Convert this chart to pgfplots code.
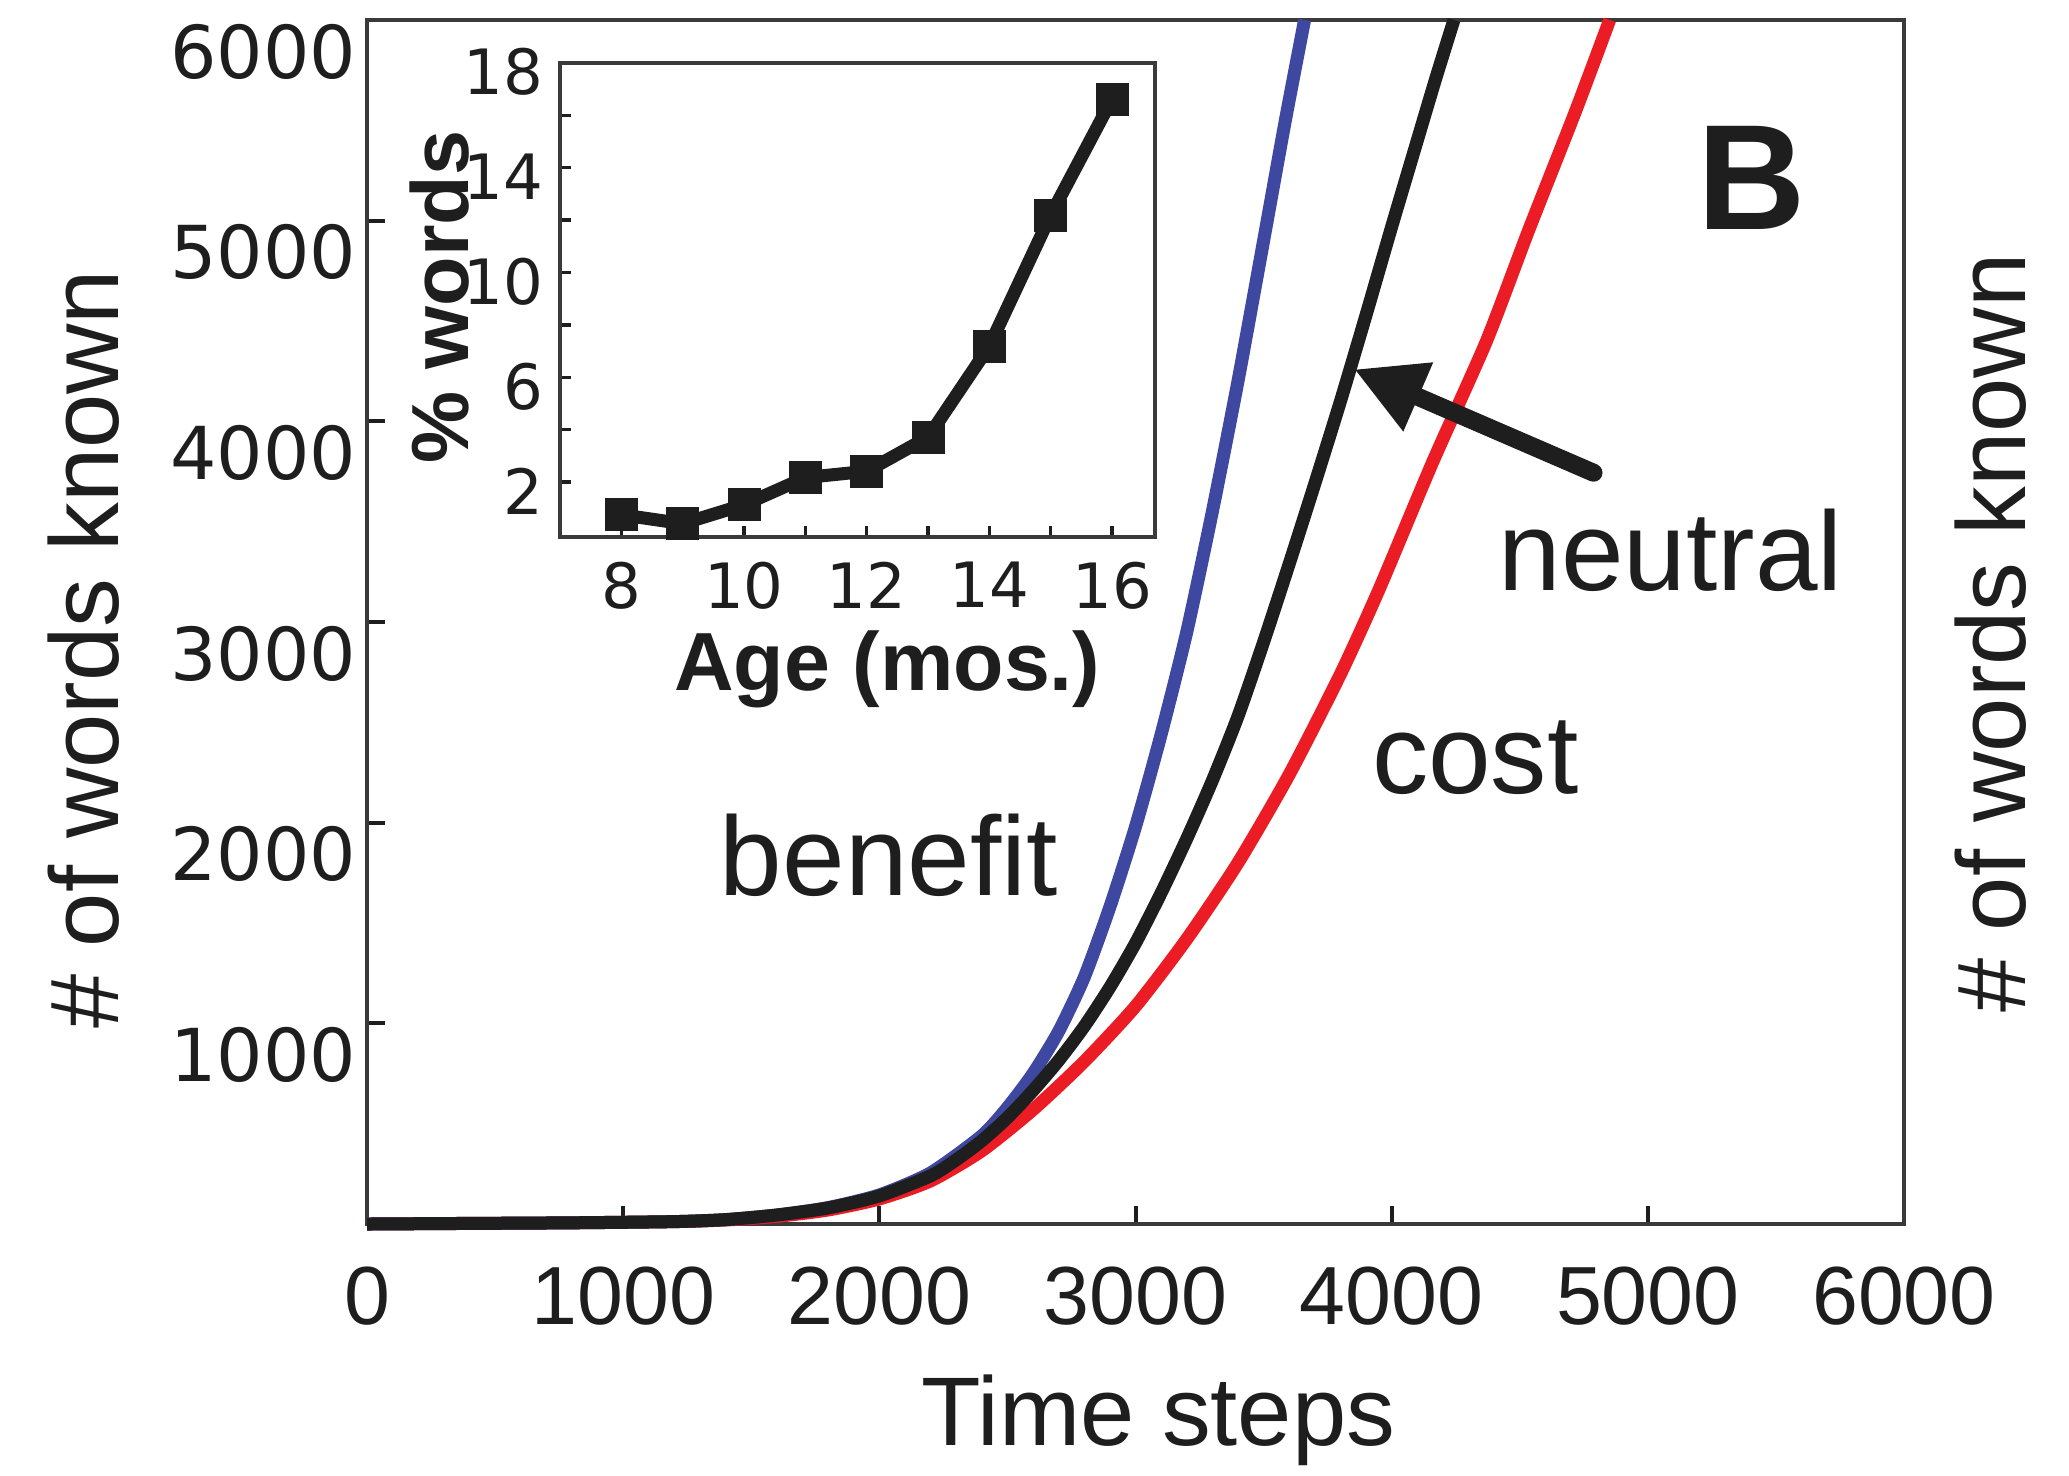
\documentclass[border=0pt]{standalone}
\usepackage{fontspec}
\setmainfont{Liberation Sans}
\newfontfamily\dejavu{DejaVu Sans}
\usepackage{pgfplots}
\pgfplotsset{compat=1.18}
\usetikzlibrary{arrows.meta}
\definecolor{cblue}{HTML}{3F48A1}
\definecolor{cred}{HTML}{EC1C24}
\definecolor{cblk}{HTML}{1E1E1E}
\definecolor{cframe}{HTML}{3A3A3A}
\begin{document}
\begin{tikzpicture}
\path[use as bounding box] (-73.4pt,-50.2pt) rectangle (340.4pt,244.8pt);
\begin{axis}[
  at={(0pt,0pt)}, anchor=south west,
  width=307.4pt, height=240.8pt, scale only axis,
  xmin=0, xmax=6000, ymin=0, ymax=6000,
  clip=false,
  axis line style={draw=cframe, line width=0.8pt},
  tick style={draw=cblk, line width=0.8pt},
  major tick length=3.6pt,
  tick pos=left, tick align=inside,
  scaled ticks=false,
  xtick={0,1000,2000,3000,4000,5000,6000},
  xticklabels={0,1000,2000,3000,4000,5000,6000},
  ytick={1000,2000,3000,4000,5000,6000},
  yticklabels={1000,2000,3000,4000,5000,6000},
  xticklabel style={font=\fontsize{16.5}{18}\selectfont, text=cblk, inner sep=0pt, anchor=north, yshift=-8.4pt},
  yticklabel style={font=\dejavu\fontsize{14.6}{16}\selectfont, text=cblk, inner sep=0pt, anchor=east, xshift=-2pt, yshift=-6.3pt},
]
\addplot[cred, line width=2.6pt, smooth, tension=0.4] coordinates {
(0,0) (400,3) (800,6) (1200,12) (1400,20) (1600,38) (1800,70) (2000,125) (2200,215) (2400,365) (2600,570) (2800,810) (3000,1085) (3200,1420) (3400,1800) (3600,2240) (3800,2740) (3950,3160) (4161,3800) (4370,4400) (4534,4950) (4713,5530) (4851,6000)};
\addplot[cblue, line width=2.6pt, smooth, tension=0.4] coordinates {
(0,0) (400,3) (800,6) (1200,12) (1400,22) (1600,45) (1800,82) (2000,145) (2200,255) (2400,440) (2500,580) (2600,750) (2700,960) (2800,1230) (2900,1580) (3000,1980) (3100,2440) (3200,2950) (3300,3550) (3400,4200) (3500,4900) (3585,5500) (3660,6000)};
\addplot[cblk, line width=2.6pt, smooth, tension=0.4] coordinates {
(0,0) (400,3) (800,6) (1200,12) (1400,22) (1600,45) (1800,80) (2000,140) (2200,240) (2300,320) (2400,415) (2500,530) (2600,665) (2700,815) (2800,985) (2900,1180) (3000,1400) (3100,1650) (3200,1920) (3300,2210) (3400,2530) (3500,2900) (3600,3290) (3700,3690) (3800,4100) (3900,4530) (4000,4970) (4100,5400) (4170,5700) (4243,6000)};
\draw[cblk, line width=3.6pt, line cap=round, -{Triangle[length=14pt, width=14pt]}] (axis cs:4788,3744) -- (axis cs:3853,4260);
\node[font=\fontsize{22.5}{24}\selectfont, text=cblk, anchor=base west, inner sep=0pt] at (axis cs:4414,3159) {neutral};
\node[font=\fontsize{22.5}{24}\selectfont, text=cblk, anchor=base west, inner sep=0pt] at (axis cs:3920,2145) {cost};
\node[font=\fontsize{22.5}{24}\selectfont, text=cblk, anchor=base west, inner sep=0pt] at (axis cs:1374,1638) {benefit};
\node[font=\bfseries\fontsize{30}{32}\selectfont, text=cblk, inner sep=0pt] at (axis cs:5405,5212) {B};
\node[font=\fontsize{19.5}{21}\selectfont, text=cblk, anchor=base, inner sep=0pt, yshift=-44.2pt] at (axis description cs:0.515,0) {Time steps};
\node[xshift=-49.6pt, rotate=90, font=\fontsize{19.5}{21}\selectfont, text=cblk, anchor=base, inner sep=0pt] at (axis description cs:0,0.4776) {\# of words known};
\node[xshift=24.3pt, rotate=90, font=\fontsize{19.5}{21}\selectfont, text=cblk, anchor=base, inner sep=0pt] at (axis description cs:1,0.491) {\# of words known};
\end{axis}
\begin{axis}[
  at={(38.6pt,137.4pt)}, anchor=south west,
  width=119pt, height=94.8pt, scale only axis,
  xmin=7, xmax=16.7, ymin=-0.1, ymax=18,
  clip=false,
  axis line style={draw=cframe, line width=0.7pt},
  tick style={draw=cblk, line width=0.7pt},
  major tick length=2.2pt, minor tick length=2.2pt,
  tick pos=left, tick align=inside,
  xtick={8,10,12,14,16}, xticklabels={8,10,12,14,16},
  minor xtick={9,11,13,15},
  ytick={2,6,10,14,18}, yticklabels={2,6,10,14,18},
  minor ytick={4,8,12,16},
  xticklabel style={font=\dejavu\fontsize{12.5}{14}\selectfont, text=cblk, inner sep=0pt, anchor=north, yshift=-4.8pt},
  yticklabel style={font=\dejavu\fontsize{12.5}{14}\selectfont, text=cblk, inner sep=0pt, anchor=east, xshift=-3.2pt, yshift=-1.8pt},
]
\addplot[cblk, line width=2.6pt, mark=square*, mark size=3.1pt, mark options={fill=cblk, line width=0.4pt}] coordinates {
(8,0.75) (9,0.41) (10,1.13) (11,2.17) (12,2.41) (13,3.71) (14,7.19) (15,12.19) (16,16.62)};
\node[font=\bfseries\fontsize{16.5}{18}\selectfont, text=cblk, anchor=base, inner sep=0pt, yshift=-30.6pt] at (axis description cs:0.55,0) {Age (mos.)};
\node[xshift=-18.4pt, rotate=90, font=\bfseries\fontsize{16.2}{18}\selectfont, text=cblk, anchor=base, inner sep=0pt] at (axis description cs:0,0.506) {\% words};
\end{axis}
\end{tikzpicture}
\end{document}
